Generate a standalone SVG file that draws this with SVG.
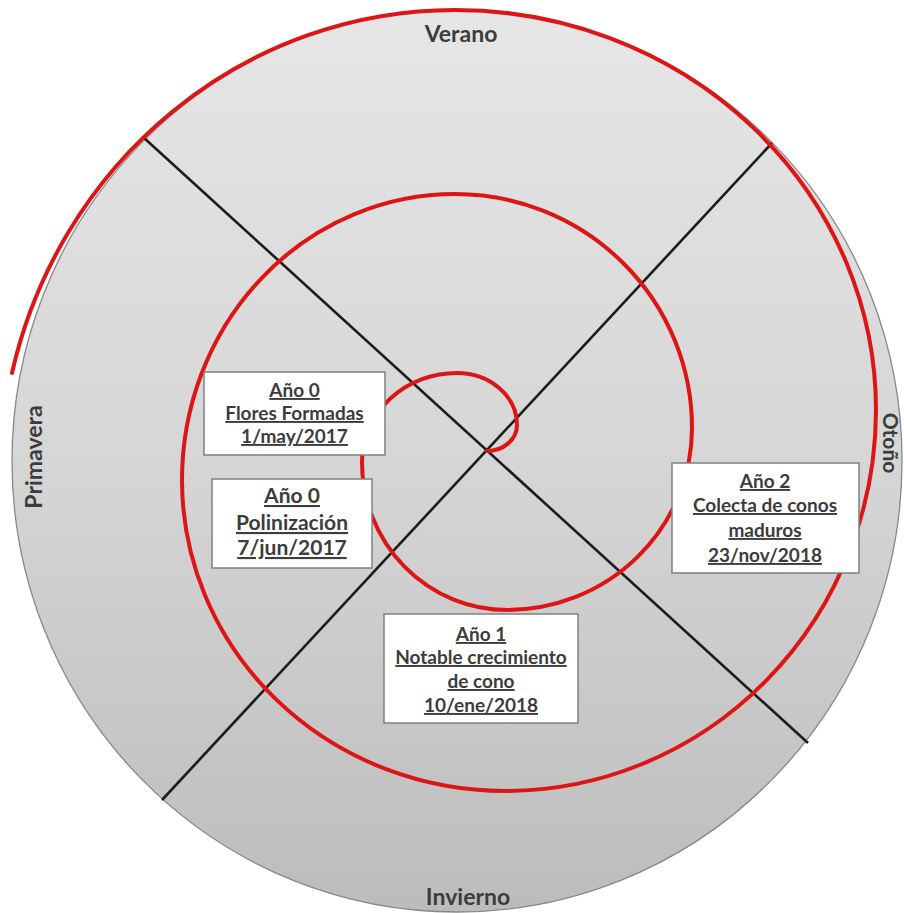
<svg xmlns="http://www.w3.org/2000/svg" width="904" height="913" viewBox="0 0 904 913">
<defs>
<linearGradient id="bg" x1="0" y1="0" x2="0" y2="1">
<stop offset="0" stop-color="#e6e6e6"/>
<stop offset="0.5" stop-color="#d6d6d6"/>
<stop offset="1" stop-color="#bcbcbc"/>
</linearGradient>
<style>
.season{font-family:Lato,"Liberation Sans",sans-serif;font-weight:bold;font-size:23px;fill:#3c3c3c;text-anchor:middle}
.box{fill:#ffffff;stroke:#808080;stroke-width:1.5}
.lbl{font-family:Lato,"Liberation Sans",sans-serif;font-weight:bold;fill:#3c3c3c;text-anchor:middle;text-decoration:underline}
.axis{stroke:#1c1c1c;stroke-width:2.6;fill:none}
.spiral{stroke:#dd1515;stroke-width:4;fill:none;stroke-linecap:round}
</style>
</defs>
<rect width="904" height="913" fill="#ffffff"/>
<g id="disc">
<ellipse cx="457" cy="461" rx="445" ry="451" fill="url(#bg)" stroke="#888888" stroke-width="1.3"/>
</g>
<g id="connectors">
<line class="axis" x1="143" y1="137" x2="808" y2="743"/>
<line class="axis" x1="772" y1="143" x2="162" y2="800"/>
<path class="spiral" d="M 487 451 A 30 26 0 0 0 517 425 A 60 52 0 0 0 457 373 A 95 89 0 0 0 362 462 A 145 148 0 0 0 507 610 A 185 182 0 0 0 692 428 A 237 234 0 0 0 455 194 A 273 286 0 0 0 182 480 A 323 311 0 0 0 505 791 A 371 381 0 0 0 876 410 A 421 400 0 0 0 455 10 A 455 470 0 0 0 12 373"/>
</g>
<g id="verano"><text class="season" x="461" y="42">Verano</text></g>
<g id="invierno"><text class="season" x="468" y="905">Invierno</text></g>
<g id="primavera"><text class="season" transform="translate(42 457) rotate(-90)">Primavera</text></g>
<g id="otono"><text class="season" font-size="21" style="font-size:21px" transform="translate(883 443) rotate(90)">Otoño</text></g>
<g id="node-flores">
<rect class="box" x="204" y="372" width="181" height="83"/>
<text class="lbl" font-size="19" x="294.5" y="397">Año 0</text>
<text class="lbl" font-size="19" x="294.5" y="420">Flores Formadas</text>
<text class="lbl" font-size="19" x="294.5" y="443">1/may/2017</text>
</g>
<g id="node-polinizacion">
<rect class="box" x="212" y="479" width="160" height="89"/>
<text class="lbl" font-size="21" x="292" y="503">Año 0</text>
<text class="lbl" font-size="21" x="292" y="530">Polinización</text>
<text class="lbl" font-size="21" x="292" y="555">7/jun/2017</text>
</g>
<g id="node-ano1">
<rect class="box" x="384" y="614" width="194" height="109"/>
<text class="lbl" font-size="19" x="481" y="641">Año 1</text>
<text class="lbl" font-size="19" x="481" y="664">Notable crecimiento</text>
<text class="lbl" font-size="19" x="481" y="688">de cono</text>
<text class="lbl" font-size="19" x="481" y="712">10/ene/2018</text>
</g>
<g id="node-ano2">
<rect class="box" x="672" y="463" width="187" height="110"/>
<text class="lbl" font-size="19" x="765" y="488">Año 2</text>
<text class="lbl" font-size="19" x="765" y="512">Colecta de conos</text>
<text class="lbl" font-size="19" x="765" y="537">maduros</text>
<text class="lbl" font-size="19" x="765" y="562">23/nov/2018</text>
</g>
</svg>
